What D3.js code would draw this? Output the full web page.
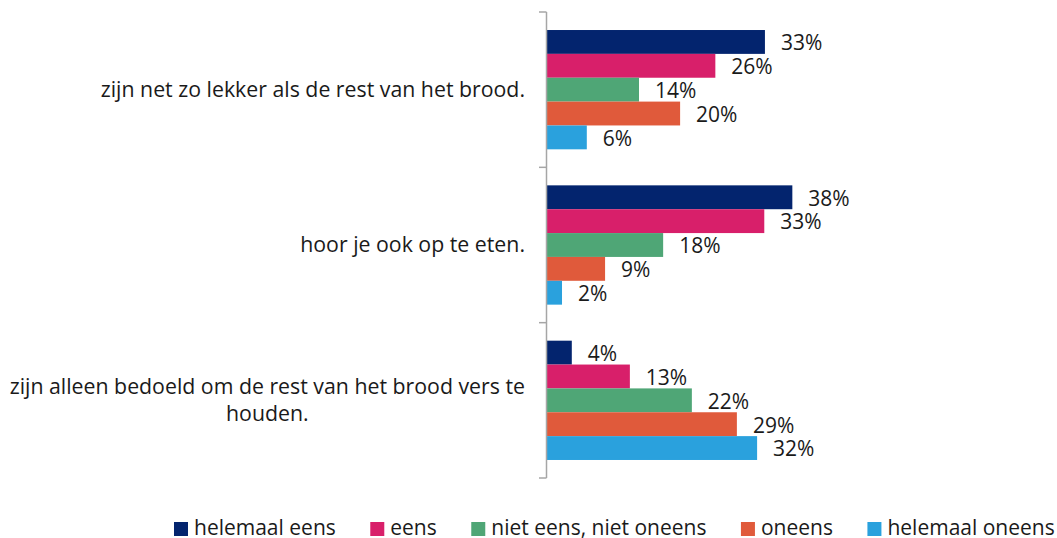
<!DOCTYPE html>
<html>
<head>
<meta charset="utf-8">
<script src="https://cdn.jsdelivr.net/npm/d3@7"></script>
<style>
  body { margin: 0; background: #fff; }
  svg { display: block; font-family: "Open Sans", sans-serif; }
</style>
</head>
<body>
<svg width="1057" height="538"></svg>
<script>
var svg = d3.select("svg");

var categories = [
  "zijn net zo lekker als de rest van het brood.",
  "hoor je ook op te eten.",
  "zijn alleen bedoeld om de rest van het brood vers te houden."
];
var series = ["helemaal eens", "eens", "niet eens, niet oneens", "oneens", "helemaal oneens"];
var colors = ["#03246e", "#d81f6a", "#4fa676", "#e05a3b", "#2aa1dd"];
// one row per category, values in percent
var values = [
  [33.4, 25.8, 14.1, 20.4, 6.1],
  [37.6, 33.3, 17.8, 8.9, 2.3],
  [3.8, 12.7, 22.2, 29.1, 32.2]
];

var x0 = 547;
var x = d3.scaleLinear().domain([0, 40]).range([x0, x0 + 261]);
var y = d3.scaleBand().domain(categories).range([12, 478]).paddingInner(0.232).paddingOuter(0.116);
var ySub = d3.scaleBand().domain(series).range([0, y.bandwidth()]);

// bars
var groups = svg.selectAll("g.cat")
  .data(categories)
  .enter().append("g")
    .attr("class", "cat")
    .attr("transform", function(d) { return "translate(0," + y(d) + ")"; });

groups.selectAll("rect")
  .data(function(d, i) { return values[i].map(function(v, j) { return {s: series[j], v: v, c: colors[j]}; }); })
  .enter().append("rect")
    .attr("x", x(0))
    .attr("y", function(d) { return ySub(d.s); })
    .attr("width", function(d) { return x(d.v) - x(0); })
    .attr("height", ySub.bandwidth())
    .attr("fill", function(d) { return d.c; });

groups.selectAll("text")
  .data(function(d, i) { return values[i].map(function(v, j) { return {s: series[j], v: v}; }); })
  .enter().append("text")
    .attr("x", function(d) { return x(d.v) + 16; })
    .attr("y", function(d) { return ySub(d.s) + ySub.bandwidth() / 2 + 1; })
    .attr("dy", "0.35em")
    .attr("font-size", 21)
    .attr("fill", "#1a1a1a")
    .text(function(d) { return Math.round(d.v) + "%"; });

// axis: ticks between groups
var tickYs = [12].concat(categories.map(function(c) { return y(c) + y.bandwidth() + y.step() * y.paddingInner() / 2; }));
tickYs[3] = 478;
var axis = svg.append("g").attr("stroke", "#a6a6a6").attr("stroke-width", 1.5);
axis.append("line").attr("x1", x0 - 0.5).attr("x2", x0 - 0.5).attr("y1", 12).attr("y2", 478);
axis.selectAll("line.tick").data(tickYs).enter().append("line")
  .attr("class", "tick")
  .attr("x1", x0 - 8).attr("x2", x0 - 0.5)
  .attr("y1", function(d) { return d; }).attr("y2", function(d) { return d; });

// category labels, wrapped at a max width
var maxW = 520;
svg.selectAll("text.cat")
  .data(categories)
  .enter().append("text")
    .attr("class", "cat")
    .attr("font-size", 21.3)
    .attr("fill", "#1a1a1a")
    .each(function(d) {
      var t = d3.select(this);
      var words = d.split(" "), lines = [], line = [];
      words.forEach(function(w) {
        line.push(w);
        t.text(line.join(" "));
        if (this.getComputedTextLength() > maxW && line.length > 1) {
          line.pop();
          lines.push(line.join(" "));
          line = [w];
        }
      }, this);
      lines.push(line.join(" "));
      t.text(null);
      var cy = y(d) + y.bandwidth() / 2;
      var lh = 27;
      var right = 525;
      var first = t.append("tspan").text(lines[0]);
      var w0 = first.node().getComputedTextLength();
      if (lines.length === 1) {
        first.attr("x", right).attr("y", cy).attr("dy", "0.35em").attr("text-anchor", "end");
      } else {
        var mid = right - w0 / 2;
        t.attr("text-anchor", "middle");
        first.attr("x", mid).attr("y", cy - lh * (lines.length - 1) / 2).attr("dy", "0.35em");
        lines.slice(1).forEach(function(l, k) {
          t.append("tspan").attr("x", mid)
            .attr("y", cy - lh * (lines.length - 1) / 2 + lh * (k + 1)).attr("dy", "0.35em").text(l);
        });
      }
    });

// legend
var legend = svg.append("g").attr("transform", "translate(174,0)");
var lx = 0;
series.forEach(function(s, i) {
  var g = legend.append("g").attr("transform", "translate(" + lx + ",0)");
  g.append("rect").attr("x", 0).attr("y", 522).attr("width", 14).attr("height", 14).attr("fill", colors[i]);
  var t = g.append("text").attr("x", 20).attr("y", 535).attr("font-size", 21).attr("fill", "#1a1a1a").text(s);
  lx += 20 + t.node().getComputedTextLength() + 34.5;
});
</script>
</body>
</html>
